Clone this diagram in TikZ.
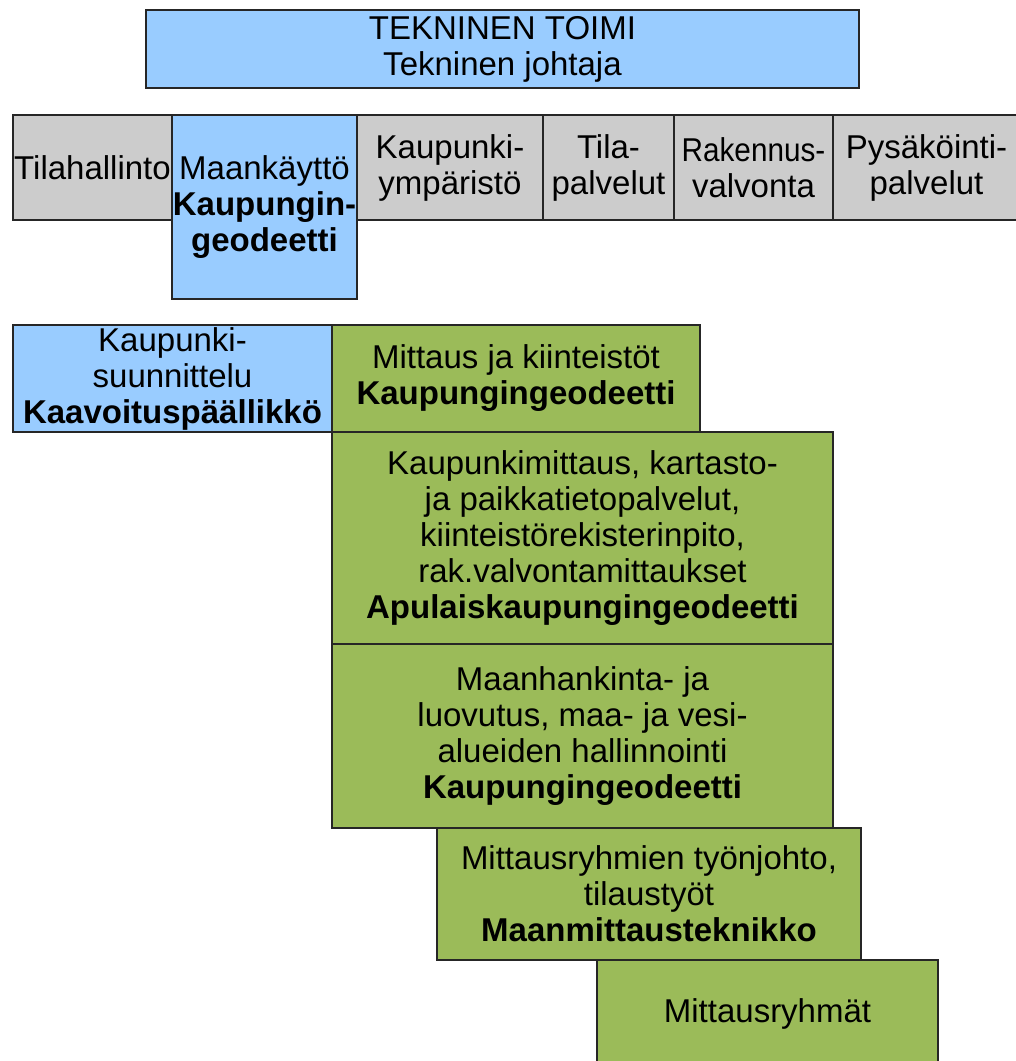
\documentclass[tikz,border=0pt]{standalone}
\usepackage{fontspec}
\setmainfont{Liberation Sans}
\definecolor{boxblue}{HTML}{99CCFF}
\definecolor{boxgray}{HTML}{CCCCCC}
\definecolor{boxgreen}{HTML}{9BBB59}
\begin{document}
\begin{tikzpicture}[x=1pt,y=-1pt,
  unit/.style={draw=black!85, line width=1.3pt, inner sep=0pt, align=center,
    font=\fontsize{33}{36}\selectfont, text=black},
  bluebox/.style={unit, fill=boxblue},
  graybox/.style={unit, fill=boxgray},
  greenbox/.style={unit, fill=boxgreen},
  sz/.style 2 args={minimum width=#1pt, minimum height=#2pt}]
\useasboundingbox (0,0) rectangle (1016,1061);

\node[bluebox, sz={713}{78}] (top) at (502.5,49) {TEKNINEN TOIMI\\Tekninen johtaja};

\node[graybox, sz={159}{105}] (tila) at (92.5,167.5) {Tilahallinto};
\node[bluebox, sz={185}{184}] (maan) at (264.5,207) {Maankäyttö\\\textbf{Kaupungin-}\\\textbf{geodeetti}};
\node[graybox, sz={186}{105}] (kymp) at (450,167.5) {Kaupunki-\\ympäristö};
\node[graybox, sz={131}{105}] (tpalv) at (608.5,167.5) {Tila-\\palvelut};
\node[graybox, sz={159}{105}] (rakv) at (753.5,167.5) {\scalebox{0.9}[1]{Rakennus-}\\valvonta};
\node[graybox, sz={187}{105}] (pysa) at (926.5,167.5) {Pysäköinti-\\palvelut};

\node[bluebox, sz={319}{107}] (ksuun) at (172.5,378.5) {Kaupunki-\\suunnittelu\\\textbf{Kaavoituspäällikkö}};
\node[greenbox, sz={368}{107}] (mitt) at (516,378.5) {Mittaus ja kiinteistöt\\\textbf{Kaupungingeodeetti}};
\node[greenbox, sz={501}{212}] (kmitt) at (582.5,538) {Kaupunkimittaus, kartasto-\\ja paikkatietopalvelut,\\kiinteistörekisterinpito,\\rak.valvontamittaukset\\\textbf{Apulaiskaupungingeodeetti}};
\node[greenbox, sz={501}{184}] (maanh) at (582.5,736) {Maanhankinta- ja\\luovutus, maa- ja vesi-\\alueiden hallinnointi\\\textbf{Kaupungingeodeetti}};
\node[greenbox, sz={424}{132}] (mryhj) at (649,894) {Mittausryhmien työnjohto,\\tilaustyöt\\\textbf{Maanmittausteknikko}};
\node[greenbox, sz={341}{108}] (mryh) at (767.5,1014) {Mittausryhmät};
\end{tikzpicture}
\end{document}
